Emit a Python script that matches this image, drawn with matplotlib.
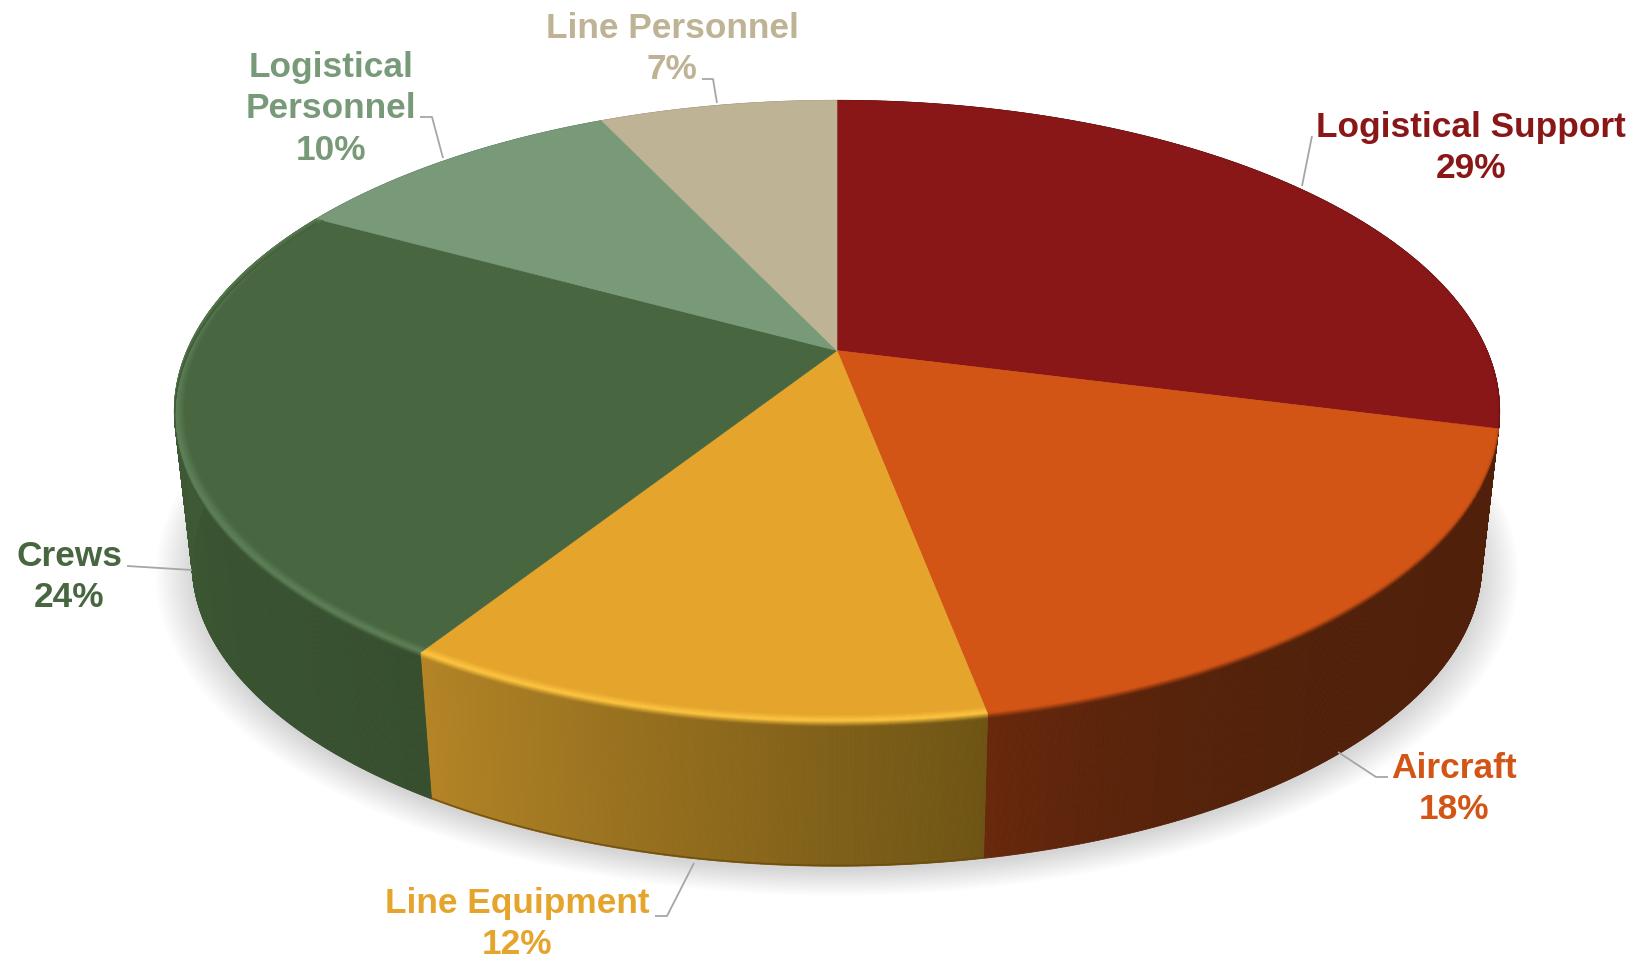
import numpy as np
import matplotlib
matplotlib.use('Agg')
import matplotlib.pyplot as plt
from matplotlib.collections import PolyCollection
from matplotlib.colors import to_rgb

#%% Data
categories = ['Logistical Support', 'Aircraft', 'Line Equipment', 'Crews', 'Logistical\nPersonnel', 'Line Personnel']
shares = [29, 18, 12, 24, 10, 7]
colors = ['#8A1717', '#D25516', '#E5A52D', '#486640', '#789A79', '#BFB395']

# side wall colour at start and end of each slice, and the colour of the top rim
side_start = ['#3A0A10', '#50200A', '#6E5414', '#364E2E', '#5A745B', '#8F8670']
side_end = ['#3A0A10', '#68280B', '#B48426', '#42603A', '#5A745B', '#8F8670']
wall_gamma = [1, 5, 1, 1, 1, 1]
rim_colors = ['#8A1717', '#D25516', '#FFC642', '#5F8259', '#789A79', '#BFB395']

#%% Layout, pixel units of the figure
label_pos = [(1471, 148), (1454, 789), (517, 924), (69, 577), (331, 109), (672, 49)]
leaders = [
    [(1312, 136), (1302, 186)],
    [(1388, 777), (1376, 777), (1338, 752)],
    [(655, 916), (667, 916), (694, 863)],
    [(127, 566), (192, 570)],
    [(420, 117), (432, 117), (443, 158)],
    [(702, 79), (713, 79), (717, 103)],
]
CX, CY = 837.0, 350.6  # apex of the pie
A, B = 650.0, 299.0    # scale of the disc
K = 0.1946             # perspective strength
DROP, SHRINK = 154.4, 0.027  # wall height and shrink of the lower disc


def project(theta, r=1.0, h=0.0):
    """theta in deg clockwise from top, r radius, h 0 top of the wall .. 1 bottom"""
    t = np.radians(theta)
    u, v = r*np.sin(t), r*np.cos(t)
    w = 1 + K*v
    s = 1 - SHRINK*h
    return CX + A*s*u/w, CY + DROP*h - B*s*v/w


def rgb(c):
    return np.array(to_rgb(c))


def wall_color(i, frac):
    f = frac**wall_gamma[i]
    return rgb(side_start[i])*(1 - f) + rgb(side_end[i])*f


fig = plt.figure(figsize=(16.36, 9.60), dpi=100)
ax = fig.add_axes([0, 0, 1, 1])
ax.set_xlim(0, 1636)
ax.set_ylim(960, 0)
ax.axis('off')

edges = 360*np.cumsum([0] + shares)/np.sum(shares)

#%% Soft shadow under the pie
circle = np.linspace(0, 360, 721)
for r in np.linspace(1.055, 1.0, 14):
    x, y = project(circle, r, 1.03)
    ax.fill(x, y, color='black', alpha=0.0135, lw=0, zorder=1)

#%% Side wall
polys, cols = [], []
for i in range(len(shares)):
    th = np.arange(edges[i], edges[i+1] + 0.2, 0.2)
    th[-1] = edges[i+1]
    frac = (th - th[0])/(th[-1] - th[0])
    x0, y0 = project(th, 1, 0)
    x1, y1 = project(th, 1, 1)
    for j in range(len(th) - 1):
        polys.append([(x0[j], y0[j]), (x1[j], y1[j]), (x1[j+1], y1[j+1]), (x0[j+1], y0[j+1])])
        cols.append(wall_color(i, frac[j]))
ax.add_collection(PolyCollection(polys, facecolors=cols, edgecolors=cols, linewidths=0.6, zorder=2))

# darker lip along the bottom of the amber wall
th = np.linspace(edges[2], edges[3], 200)
x, y = project(th, 1, 0.995)
ax.plot(x, y, color='#6B4A10', lw=1.2, alpha=0.8, zorder=3)

#%% Top face
for i in range(len(shares)):
    th = np.linspace(edges[i], edges[i+1], 200)
    x, y = project(th)
    ax.fill(np.r_[CX, x], np.r_[CY, y], facecolor=colors[i], edgecolor=colors[i], lw=0.4, zorder=4)

#%% Bevel between top and wall
bevel_from = [88, edges[1], edges[2], edges[3]]
polys, cols = [], []
steps = np.linspace(0, 1, 15)
for i in range(4):
    th = np.arange(bevel_from[i], edges[i+1] + 0.4, 0.4)
    th[-1] = edges[i+1]
    frac = (th - edges[i])/(edges[i+1] - edges[i])
    fade = np.clip((th - 88)/14, 0, 1) if i == 0 else np.ones_like(th)
    for j in range(len(th) - 1):
        side = wall_color(i, frac[j])
        rim = rgb(rim_colors[i])
        face = rgb(colors[i])
        for a, b in zip(steps[:-1], steps[1:]):
            ra, rb = min(0.984 + 0.032*a, 1), min(0.984 + 0.032*b, 1)
            ha, hb = max(a - 0.5, 0)*0.07, max(b - 0.5, 0)*0.07
            xa0, ya0 = project(th[j], ra, ha)
            xa1, ya1 = project(th[j+1], ra, ha)
            xb0, yb0 = project(th[j], rb, hb)
            xb1, yb1 = project(th[j+1], rb, hb)
            polys.append([(xa0, ya0), (xa1, ya1), (xb1, yb1), (xb0, yb0)])
            m = (a + b)/2
            c = np.array([np.interp(m, [0, 0.42, 1], [face[n], rim[n], side[n]]) for n in range(3)])
            if i == 0:
                c = face*(1 - fade[j]) + c*fade[j]
            cols.append(c)
ax.add_collection(PolyCollection(polys, facecolors=cols, edgecolors=cols, linewidths=0.3, zorder=5))

#%% Leaders and labels
for pts in leaders:
    ax.plot(*zip(*pts), color='#A6A6A6', lw=1.3, zorder=6, solid_capstyle='butt')

for name, share, col, pos in zip(categories, shares, colors, label_pos):
    ax.text(pos[0], pos[1], f'{name}\n{share}%', color=col, ha='center', va='center',
            multialignment='center', fontsize=25.4, fontweight='bold',
            family='Liberation Sans', linespacing=1.32, zorder=7)

fig.savefig('out.png', dpi=100)
